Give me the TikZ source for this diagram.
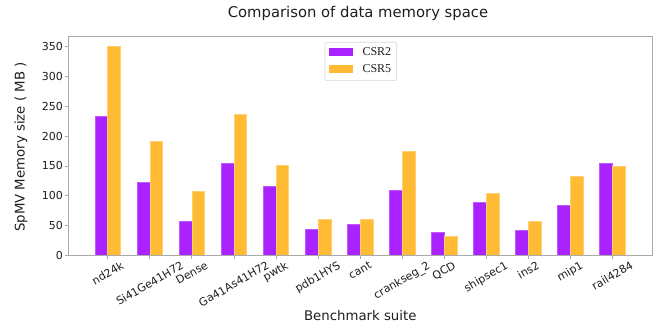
\documentclass[tikz,border=0pt]{standalone}
\usepackage{fontspec}
\setmainfont{DejaVu Sans}
\newfontfamily\legendfont{Liberation Serif}
\usepackage{graphicx}
\definecolor{csrtwo}{HTML}{AA22FF}
\definecolor{csrfive}{HTML}{FFBB33}
\definecolor{framegray}{RGB}{170,170,170}
\definecolor{legframe}{RGB}{215,215,215}
\definecolor{txt}{RGB}{30,30,30}
\tikzset{
  ticklbl/.style={font=\fontsize{11}{13}\selectfont, text=txt, inner sep=0pt},
  axlbl/.style={font=\fontsize{13.3}{15}\selectfont, text=txt, inner sep=0pt},
  bartwo/.style={fill=csrtwo, draw=csrtwo!75!white, line width=0.5pt},
  barfive/.style={fill=csrfive, draw=csrfive!70!white, line width=0.5pt},
  axframe/.style={draw=framegray, line width=0.9pt},
  tickmark/.style={draw=framegray, line width=0.7pt}
}
\begin{document}
\begin{tikzpicture}[x=1pt,y=1pt]
\useasboundingbox (0,0) rectangle (659,328);
% title
\node[font=\fontsize{14.8}{17}\selectfont, text=txt] (title) at (358,315) {Comparison of data memory space};
% bars
\foreach \n/\p/\o [count=\i from 0] in {nd24k/233.7/350,Si41Ge41H72/121.8/190.6,Dense/57.5/107.9,Ga41As41H72/153.7/237,pwtk/115.8/151,pdb1HYS/44/60.4,cant/52.5/60.4,crankseg\_2/109/175,QCD/38.6/32.4,shipsec1/88.9/103.4,ins2/42/56.4,mip1/84.4/133,rail4284/154.9/149.8}{
  \pgfmathsetmacro\c{107.7+42.05*\i}
  \path[bartwo] ({\c-12.8},72.7) rectangle (\c,{72.7+0.596*\p});
  \path[barfive] (\c,72.7) rectangle ({\c+12.8},{72.7+0.596*\o});
  \draw[tickmark] (\c,72.7) -- (\c,69.2);
  \node[ticklbl, anchor=north] (xl\i) at (\c,67.5) {\rotatebox{30}{\n}};
}
% y ticks
\foreach \v [count=\j] in {0,50,...,350}{
  \pgfmathsetmacro\yy{72.7+0.596*\v}
  \draw[tickmark] (68.3,\yy) -- (64.8,\yy);
  \node[ticklbl, anchor=east] (yl\j) at (63,\yy) {\v};
}
% frame
\path[axframe] (68.3,72.7) rectangle (652.3,292);
% axis labels
\node[axlbl] (xlab) at (360.3,12.3) {Benchmark suite};
\node[axlbl, rotate=90] (ylab) at (21,181) {SpMV Memory size ( MB )};
% legend
\draw[legframe, rounded corners=2pt, fill=white, line width=0.6pt] (325,247.3) rectangle (396.7,285.7);
\fill[csrtwo] (329,272.3) rectangle (352.7,280.3);
\fill[csrfive] (329,255.3) rectangle (352.7,263);
\node[anchor=west, inner sep=0pt, font=\legendfont\fontsize{12}{14}\selectfont, text=txt] (leg2) at (362.3,276.3) {CSR2};
\node[anchor=west, inner sep=0pt, font=\legendfont\fontsize{12}{14}\selectfont, text=txt] (leg5) at (362.3,259.7) {CSR5};
\end{tikzpicture}
\end{document}
